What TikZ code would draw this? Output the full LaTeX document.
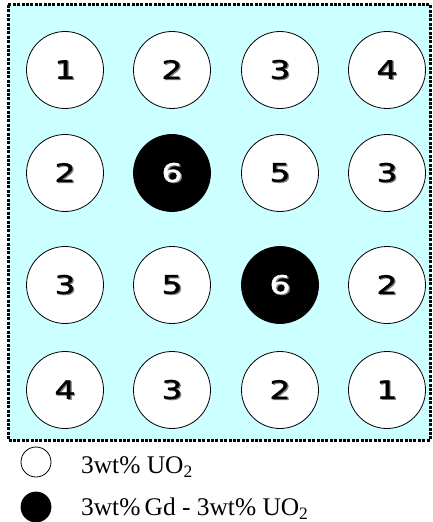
\documentclass[tikz,border=0pt]{standalone}
\usepackage{graphicx}
\usepackage{fontspec}
\setmainfont{Liberation Serif}
\newfontfamily\numfont[FakeBold=1.2]{DejaVu Sans}
\definecolor{bgcyan}{RGB}{204,255,255}
\newcommand{\dshadow}[1]{\scalebox{1.3}[1]{\rlap{\kern1bp\raisebox{-1bp}{\color{gray}#1}}#1}}
\newcommand{\lowsub}[1]{\raisebox{-4bp}{\fontsize{17.5}{17.5}\selectfont #1}}
\begin{document}
\begin{tikzpicture}[x=1bp,y=-1bp,
  fuelrod/.style={circle, draw=black, line width=0.8bp, fill=white, minimum size=77bp, inner sep=0pt,
    font=\numfont\fontsize{25.5}{25.5}\selectfont, text=black},
  gdrod/.style={fuelrod, fill=black, text=white},
  legopen/.style={circle, draw=black, line width=0.8bp, fill=white, minimum size=30bp, inner sep=0pt},
  legfull/.style={legopen, fill=black},
  legtext/.style={anchor=base west, inner sep=0pt, font=\fontsize{25.5}{25.5}\selectfont},
  frame/.style={draw=black, fill=bgcyan, line width=3bp, dash pattern=on 3bp off 1.4bp}]
\useasboundingbox (0,0) rectangle (432,522);
\draw[frame] (8,5) rectangle (430.5,440);
% row 1
\node[fuelrod] (r1c1) at (65,70) {\dshadow{1}};
\node[fuelrod] (r1c2) at (172,70) {\dshadow{2}};
\node[fuelrod] (r1c3) at (280,70) {\dshadow{3}};
\node[fuelrod] (r1c4) at (387,70) {\dshadow{4}};
% row 2
\node[fuelrod] (r2c1) at (65,173) {\dshadow{2}};
\node[gdrod]   (r2c2) at (172,173) {\dshadow{6}};
\node[fuelrod] (r2c3) at (280,173) {\dshadow{5}};
\node[fuelrod] (r2c4) at (387,173) {\dshadow{3}};
% row 3
\node[fuelrod] (r3c1) at (65,285) {\dshadow{3}};
\node[fuelrod] (r3c2) at (172,285) {\dshadow{5}};
\node[gdrod]   (r3c3) at (280,285) {\dshadow{6}};
\node[fuelrod] (r3c4) at (387,285) {\dshadow{2}};
% row 4
\node[fuelrod] (r4c1) at (65,390) {\dshadow{4}};
\node[fuelrod] (r4c2) at (172,390) {\dshadow{3}};
\node[fuelrod] (r4c3) at (280,390) {\dshadow{2}};
\node[fuelrod] (r4c4) at (387,390) {\dshadow{1}};
% legend
\node[legopen] (lego) at (36,462) {};
\node[legfull] (legf) at (36,507) {};
\node[legtext] (t1) at (81,473) {3wt\% UO\lowsub{2}};
\node[legtext] (t2) at (81,515) {3wt\%\,Gd - 3wt\% UO\lowsub{2}};
\end{tikzpicture}
\end{document}
